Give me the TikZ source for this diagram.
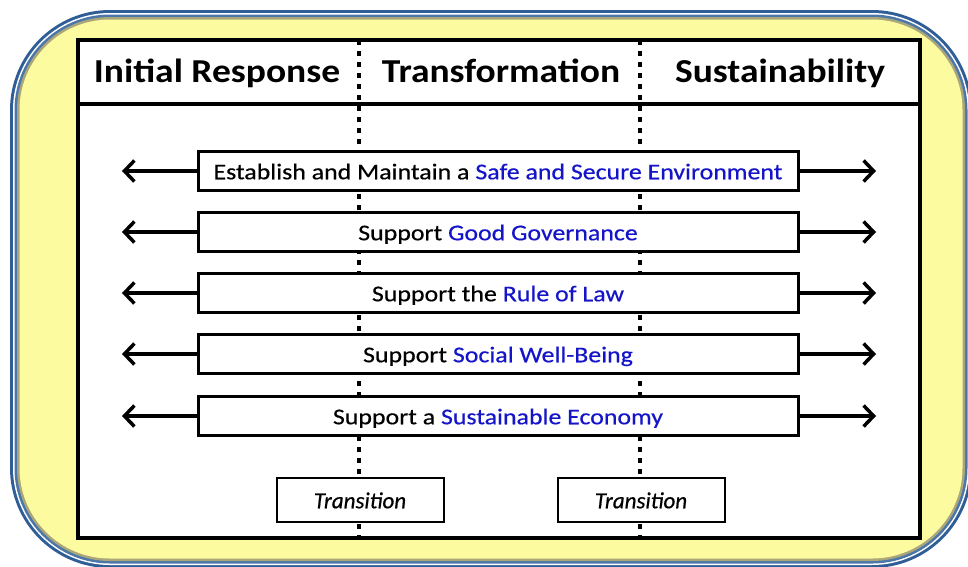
\documentclass[tikz,border=0pt]{standalone}
\usepackage{fontspec}
\setmainfont{Carlito}
\newfontfamily\goalfont[FakeStretch=1.15,FakeBold=0.5]{Carlito}
\newfontfamily\transfont[FakeBold=0.6]{Carlito}
\newfontfamily\phasefont[FakeStretch=1.12]{Carlito}
\usetikzlibrary{arrows.meta}
\definecolor{frameblue}{HTML}{2F5E96}
\definecolor{framemid}{HTML}{4B76AA}
\definecolor{frameolive}{HTML}{A9A67A}
\definecolor{paneyellow}{HTML}{FDFB9F}
\definecolor{goalblue}{HTML}{1414C8}
\tikzset{
  goal/.style={draw, line width=3pt, fill=white, minimum width=600pt,
    minimum height=39pt, inner sep=0pt, text height=16.5pt, text depth=0pt,
    font=\goalfont\fontsize{22.5}{26}\selectfont},
  trans/.style={draw, line width=2pt, fill=white, minimum width=167pt,
    minimum height=44pt, inner sep=0pt, text height=16.5pt, text depth=0pt,
    font=\transfont\fontsize{23}{27}\selectfont\itshape},
  phase/.style={anchor=base, inner sep=0pt,
    font=\phasefont\fontsize{33.5}{38}\selectfont\bfseries},
  divider/.style={line width=4pt, dash pattern=on 5pt off 6pt},
  goalarrow/.style={line width=3.5pt, -{Straight Barb[length=10pt,width=21pt]}}
}
\begin{document}
\begin{tikzpicture}[x=1pt,y=-1pt]
      \useasboundingbox (0,0) rectangle (968,566);
      \clip (0,0) rectangle (968,566);
      % frame
      \fill[frameblue, rounded corners=100pt] (10,10) rectangle (972,568);
      \fill[white, rounded corners=97pt] (13,13) rectangle (969,565);
      \fill[framemid, rounded corners=95.5pt] (14.5,14.5) rectangle (967.5,563.5);
      \fill[frameolive, rounded corners=93pt] (17,17) rectangle (965,561);
      \fill[paneyellow, rounded corners=90.5pt] (19.5,19.5) rectangle (962.5,558.5);
      % panel
      \draw[line width=4pt, fill=white] (78,40) rectangle (920,538);
      \draw[line width=4pt] (78,104) -- (920,104);
      \coordinate (d1t) at (359,40);
      \coordinate (d1b) at (359,538);
      \coordinate (d2t) at (640,40);
      \coordinate (d2b) at (640,538);
      \draw[divider] (d1t) -- (d1b);
      \draw[divider] (d2t) -- (d2b);
      \node[phase] (ir) at (217,82) {Initial Response};
      \node[phase] (tf) at (501,82) {Transformation};
      \node[phase] (su) at (780,82) {Sustainability};
      % goals
      \node[goal] (g1) at (498,171) {Establish and Maintain a \textcolor{goalblue}{Safe and Secure Environment}};
      \node[goal] (g2) at (498,232) {Support \textcolor{goalblue}{Good Governance}};
      \node[goal] (g3) at (498,293) {Support the \textcolor{goalblue}{Rule of Law}};
      \node[goal] (g4) at (498,354) {Support \textcolor{goalblue}{Social Well-Being}};
      \node[goal] (g5) at (498,416) {Support a \textcolor{goalblue}{Sustainable Economy}};
      \coordinate (l1) at (122,171);
      \coordinate (r1) at (876,171);
      \coordinate (l2) at (122,232);
      \coordinate (r2) at (876,232);
      \coordinate (l3) at (122,293);
      \coordinate (r3) at (876,293);
      \coordinate (l4) at (122,354);
      \coordinate (r4) at (876,354);
      \coordinate (l5) at (122,416);
      \coordinate (r5) at (876,416);
      \begin{scope}[goalarrow]
        \draw (g1.west) to (l1);
        \draw (g1.east) to (r1);
        \draw (g2.west) to (l2);
        \draw (g2.east) to (r2);
        \draw (g3.west) to (l3);
        \draw (g3.east) to (r3);
        \draw (g4.west) to (l4);
        \draw (g4.east) to (r4);
        \draw (g5.west) to (l5);
        \draw (g5.east) to (r5);
      \end{scope}
      % transitions
      \node[trans] (t1) at (360,500) {Transition};
      \node[trans] (t2) at (641,500) {Transition};
    \end{tikzpicture}
\end{document}
